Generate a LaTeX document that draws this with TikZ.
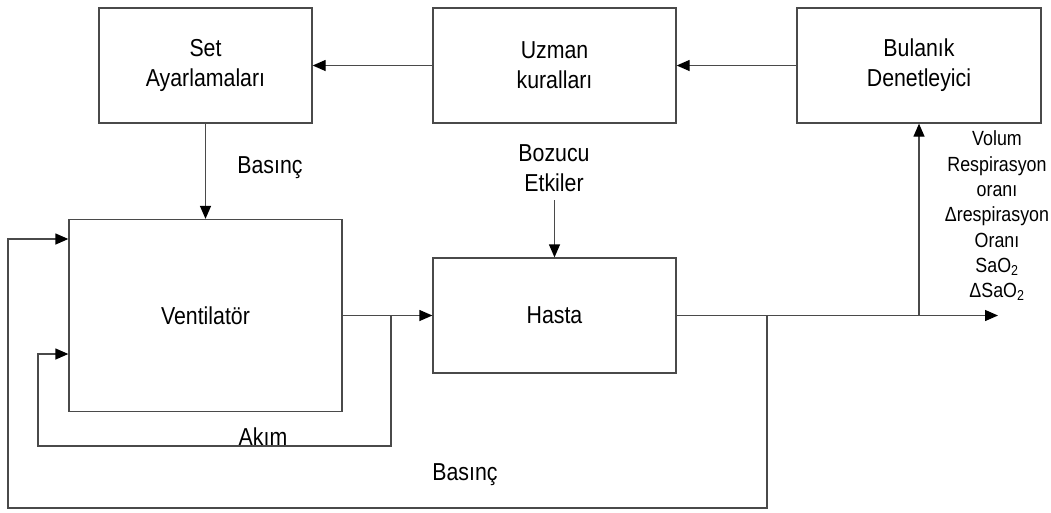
\documentclass[tikz,border=0pt]{standalone}
\usepackage{fontspec}
\setmainfont{Liberation Sans}
\newfontfamily\narrowfont[FakeStretch=0.87]{Liberation Sans}
\usetikzlibrary{arrows.meta}
\definecolor{linegray}{HTML}{4A4A4A}
\tikzset{
  blk/.style={draw=linegray, line width=1.3pt, minimum width=#1, inner sep=0pt, align=center,
     font=\narrowfont\fontsize{24.5}{30}\selectfont},
  lbl/.style={align=center, inner sep=0pt, font=\narrowfont\fontsize{24.5}{30}\selectfont},
  conn/.style={draw=linegray, line width=1.3pt},
  arr/.style={conn, -{Triangle[length=13pt,width=11pt,color=black]}},
}
\begin{document}
\begin{tikzpicture}[x=1pt,y=-1pt]
\useasboundingbox (0,0) rectangle (1051,512);
% boxes
\node[blk=213pt, minimum height=115pt] (set) at (205.5,65.5) {Set\\Ayarlamaları};
\node[blk=243pt, minimum height=115pt] (uz) at (554.5,65.5) {Uzman\\kuralları};
\node[blk=244pt, minimum height=115pt] (bul) at (919,65.5) {Bulanık\\Denetleyici};
\node[blk=273pt, minimum height=192pt] (vent) at (205.5,315.5) {Ventilatör};
\node[blk=243pt, minimum height=115pt] (hasta) at (554.5,315.5) {Hasta};
% labels
\node[lbl] (bas1) at (270,168) {Basınç};
\node[lbl] (boz) at (554,168) {Bozucu\\Etkiler};
\node[lbl] (akim) at (263,437) {Akım};
\node[lbl] (bas2) at (465,475) {Basınç};
\node[align=center, inner sep=0pt, font=\narrowfont\fontsize{20.5}{25.3}\selectfont] (outs) at (997,216)
  {Volum\\Respirasyon\\oranı\\Δrespirasyon\\Oranı\\SaO\textsubscript{2}\\ΔSaO\textsubscript{2}};
% coordinates
\coordinate (bozs) at (554.5,200);
\coordinate (ak1) at (391,315.5);
\coordinate (ak2) at (391,446);
\coordinate (ak3) at (38,446);
\coordinate (ak4) at (38,354);
\coordinate (out) at (998,315.5);
\coordinate (br1) at (919,315.5);
\coordinate (br2) at (767,315.5);
\coordinate (fb1) at (767,508);
\coordinate (fb2) at (8,508);
\coordinate (fb3) at (8,239);
% connectors
\draw[arr] (uz.west) -- (set.east);
\draw[arr] (bul.west) -- (uz.east);
\draw[arr] (set.south) -- (vent.north);
\draw[arr] (bozs) -- (hasta.north);
\draw[arr] (vent.east) -- (hasta.west);
\draw[arr] (ak1) -- (ak2) -- (ak3) -- (ak4) -- (vent.west |- ak4);
\draw[arr] (hasta.east) -- (out);
\draw[arr] (br1) -- (bul.south);
\draw[arr] (br2) -- (fb1) -- (fb2) -- (fb3) -- (vent.west |- fb3);
\end{tikzpicture}
\end{document}
